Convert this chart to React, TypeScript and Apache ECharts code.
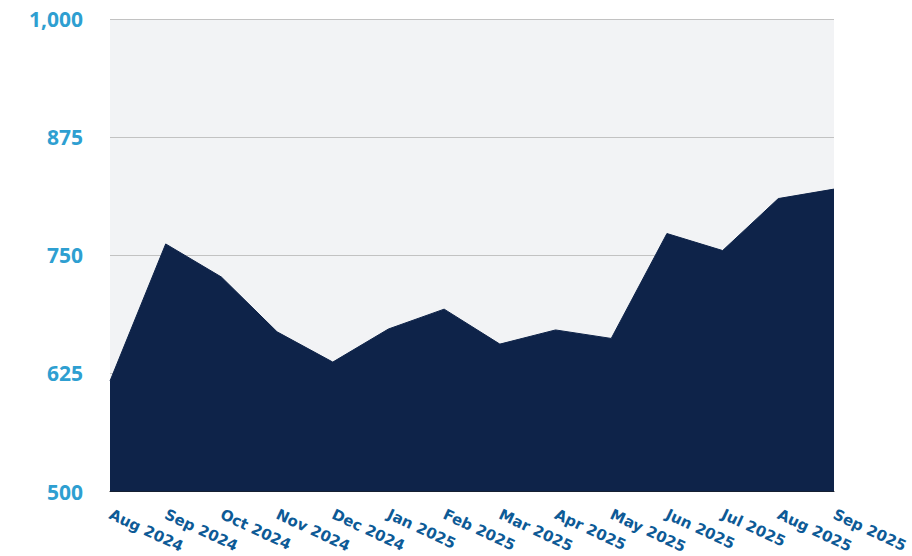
import React, { useEffect, useRef } from "react";
import * as echarts from "echarts";

const categories = [
  "Aug 2024", "Sep 2024", "Oct 2024", "Nov 2024", "Dec 2024", "Jan 2025", "Feb 2025",
  "Mar 2025", "Apr 2025", "May 2025", "Jun 2025", "Jul 2025", "Aug 2025", "Sep 2025",
];
const values = [617, 762, 727, 669, 637, 672, 693, 656, 671, 662, 773, 755, 810, 820];
const yMin = 500;
const yMax = 1000;
const yInterval = 125;

export default function App() {
  const ref = useRef<HTMLDivElement>(null);
  useEffect(() => {
    if (!ref.current) return;
    const chart = echarts.init(ref.current, undefined, { renderer: "svg" });
    chart.setOption({
      animation: false,
      grid: {
        left: 110,
        right: 78,
        top: 19,
        bottom: 64,
        show: true,
        backgroundColor: "#f2f3f5",
        borderWidth: 0,
      },
      xAxis: {
        type: "category",
        data: categories,
        boundaryGap: false,
        axisLine: { show: true, lineStyle: { color: "#1c1c1c", width: 1 } },
        axisTick: { show: false },
        axisLabel: {
          rotate: -25,
          margin: 22,
          interval: 0,
          color: "#0d5a96",
          fontFamily: "DejaVu Sans",
          fontWeight: "bold",
          fontSize: 15,
        },
        splitLine: { show: false },
      },
      yAxis: {
        type: "value",
        min: yMin,
        max: yMax,
        interval: yInterval,
        axisLine: { show: false },
        axisTick: { show: false },
        axisLabel: {
          margin: 27,
          color: "#2e9fd1",
          fontFamily: "Open Sans",
          fontWeight: "bold",
          fontSize: 21,
          formatter: (v: number) => v.toLocaleString("en-US"),
        },
        splitLine: { show: true, lineStyle: { color: "#c2c2c2", width: 1 } },
      },
      series: [
        {
          type: "line",
          data: values,
          showSymbol: false,
          symbol: "none",
          lineStyle: { color: "#0e2349", width: 1 },
          areaStyle: { color: "#0e2349", opacity: 1 },
        },
      ],
    });
    return () => chart.dispose();
  }, []);
  return (
    <div
      ref={ref}
      style={{ position: "absolute", left: 0, top: 0, width: 912, height: 556 }}
    />
  );
}
